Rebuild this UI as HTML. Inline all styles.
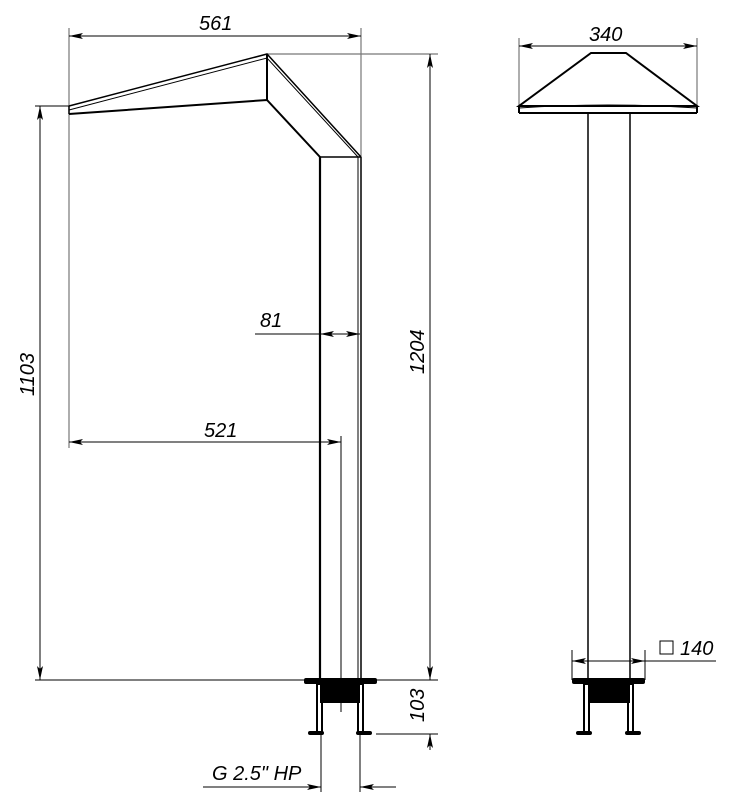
<!DOCTYPE html>
<html><head><style>body{margin:0;background:#fff}svg{display:block}text{font-family:"Liberation Sans",sans-serif;font-style:italic;font-size:20px;fill:#000}</style></head>
<body>
<svg width="731" height="800" viewBox="0 0 731 800" xmlns="http://www.w3.org/2000/svg">
<defs>
<marker id="a" viewBox="0 0 14 6" refX="14" refY="3" markerWidth="14" markerHeight="6" orient="auto-start-reverse" markerUnits="userSpaceOnUse"><path d="M0,0 L14,3 L0,6 L3,3 Z" fill="#000"/></marker>
</defs>
<g stroke="#777" stroke-width="1.2" fill="none">
<line x1="69" y1="28" x2="69" y2="448"/>
<line x1="361" y1="28" x2="361" y2="157"/>
<line x1="267" y1="54" x2="438" y2="54"/>
<line x1="519" y1="38" x2="519" y2="110"/>
<line x1="697" y1="38" x2="697" y2="110"/>
</g>
<g stroke="#000" stroke-width="1" fill="none">
<line x1="69" y1="36" x2="361" y2="36" marker-start="url(#a)" marker-end="url(#a)"/>
<line x1="430" y1="54" x2="430" y2="680" marker-start="url(#a)" marker-end="url(#a)"/>
<line x1="35" y1="106" x2="69" y2="106"/>
<line x1="40" y1="106" x2="40" y2="680" marker-start="url(#a)" marker-end="url(#a)"/>
<line x1="35" y1="680" x2="310" y2="680"/>
<line x1="376" y1="680" x2="438" y2="680"/>
<line x1="376" y1="734" x2="438" y2="734"/>
<line x1="430" y1="750" x2="430" y2="734" marker-end="url(#a)"/>
<line x1="255" y1="334" x2="320" y2="334"/>
<line x1="320" y1="334" x2="340" y2="334" marker-start="url(#a)"/>
<line x1="340" y1="334" x2="360" y2="334" marker-end="url(#a)"/>
<line x1="69" y1="442" x2="341" y2="442" marker-start="url(#a)" marker-end="url(#a)"/>
<line x1="341" y1="436" x2="341" y2="712"/>
<line x1="321" y1="735" x2="321" y2="792"/>
<line x1="360" y1="735" x2="360" y2="792"/>
<line x1="203" y1="787" x2="321" y2="787" marker-end="url(#a)"/>
<line x1="396" y1="787" x2="360" y2="787" marker-end="url(#a)"/>
<line x1="519" y1="46" x2="697" y2="46" marker-start="url(#a)" marker-end="url(#a)"/>
<line x1="572" y1="650" x2="572" y2="680"/>
<line x1="645" y1="650" x2="645" y2="680"/>
<line x1="572" y1="661" x2="608" y2="661" marker-start="url(#a)"/>
<line x1="608" y1="661" x2="645" y2="661" marker-end="url(#a)"/>
<line x1="645" y1="661" x2="716" y2="661"/>
</g>
<g stroke="#000" fill="none" stroke-width="1.5">
<polyline points="69,106 267,54 361,157" />
<polyline points="69,110 267,58 358,157" stroke-width="1"/>
<polyline points="69,114 267,100 320,157" stroke-width="2"/>
<line x1="69" y1="106" x2="69" y2="114"/>
<line x1="267" y1="54" x2="267" y2="100" stroke-width="2"/>
<line x1="320" y1="157" x2="361" y2="157"/>
<line x1="320" y1="157" x2="320" y2="680" stroke-width="2.2"/>
<line x1="358" y1="157" x2="358" y2="680" stroke-width="1"/>
<line x1="361" y1="157" x2="361" y2="680" stroke-width="1.5"/>
<polygon points="591,53 626,53 697,106 519,106" stroke-width="2"/>
<line x1="519" y1="113" x2="697" y2="113" stroke-width="2"/>
<line x1="519" y1="106" x2="519" y2="113" stroke-width="2"/>
<line x1="697" y1="106" x2="697" y2="113" stroke-width="2"/>
<path d="M519,108 Q608,102 697,108" stroke-width="1"/>
<line x1="588" y1="113" x2="588" y2="680" stroke-width="1.5"/>
<line x1="630" y1="113" x2="630" y2="680" stroke-width="1.5"/>
</g>
<g fill="#000">
<rect x="304" y="678" width="73" height="6" rx="2"/>
<rect x="320" y="684" width="40" height="19"/>
<rect x="572" y="678" width="73" height="6" rx="2"/>
<rect x="588" y="684" width="42" height="19"/>
</g>
<g stroke="#000" fill="none" stroke-width="2">
<rect x="317" y="684" width="5" height="48"/>
<rect x="358" y="684" width="5" height="48"/>
<rect x="584" y="684" width="5" height="48"/>
<rect x="628" y="684" width="5" height="48"/>
</g>
<g fill="#000">
<rect x="308" y="731" width="16" height="4" rx="2"/>
<rect x="356" y="731" width="16" height="4" rx="2"/>
<rect x="576" y="731" width="16" height="4" rx="2"/>
<rect x="625" y="731" width="16" height="4" rx="2"/>
</g>
<text x="199" y="30">561</text>
<text x="589" y="41">340</text>
<text x="260" y="327">81</text>
<text x="204" y="437">521</text>
<text x="212" y="780">G 2.5" HP</text>
<text x="680" y="655">140</text>
<rect x="660" y="641" width="13" height="13" fill="none" stroke="#000" stroke-width="1"/>
<text transform="translate(34,396) rotate(-90)">1103</text>
<text transform="translate(424,374) rotate(-90)">1204</text>
<text transform="translate(424,722) rotate(-90)">103</text>
</svg>
</body></html>
